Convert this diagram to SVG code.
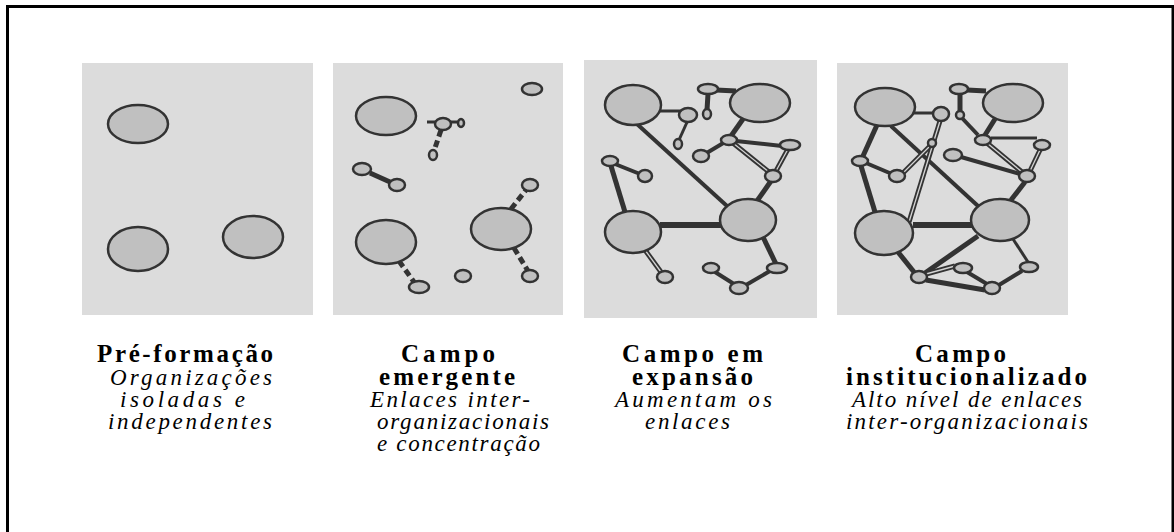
<svg xmlns="http://www.w3.org/2000/svg" width="1174" height="532" viewBox="0 0 1174 532">
<style>
.panel{fill:#dcdcdc}
.n{fill:#c0c0c0;stroke:#333;stroke-width:2.5}
.e{stroke:#333;stroke-width:3;fill:none;stroke-linecap:butt}
.m{stroke-width:4}
.t{stroke-width:5}
.w{stroke-width:6}
.dsh{stroke-dasharray:7 4}
.di{stroke:#d4d4d4;stroke-width:1.3;fill:none}
.h{font-family:"Liberation Serif","Times New Roman",serif;font-weight:bold;font-size:25px;fill:#000}
.s{font-family:"Liberation Serif","Times New Roman",serif;font-style:italic;font-size:23px;fill:#000}
</style>
<rect x="7.5" y="6.5" width="1165.5" height="600" fill="#fff" stroke="#000" stroke-width="3"/>
<g id="panels">
<rect class="panel" x="82" y="63" width="231" height="252"/>
<rect class="panel" x="333" y="63" width="230" height="252"/>
<rect class="panel" x="584" y="60" width="233" height="258"/>
<rect class="panel" x="837" y="63" width="231" height="252"/>
</g>
<g id="connectors">
<line class="e" x1="427" y1="122" x2="436" y2="122"/>
<line class="e" x1="450" y1="122" x2="458" y2="122"/>
<line class="e t dsh" x1="441" y1="130" x2="434" y2="151"/>
<line class="e t" x1="370" y1="173" x2="390" y2="182"/>
<line class="e t dsh" x1="399" y1="261" x2="414" y2="282"/>
<line class="e t dsh" x1="511" y1="209" x2="526" y2="190"/>
<line class="e t dsh" x1="514" y1="248" x2="528" y2="271"/>
<line class="e" x1="660" y1="111" x2="682" y2="111"/>
<line class="e t" x1="716" y1="90" x2="736" y2="91"/>
<line class="e t" x1="708" y1="94" x2="707" y2="110"/>
<line class="e" x1="688" y1="120" x2="679" y2="140"/>
<line class="e t" x1="743" y1="119" x2="731" y2="136"/>
<line class="e m" x1="725" y1="142" x2="705" y2="154"/>
<line class="e m" x1="736" y1="141" x2="782" y2="146"/>
<line class="e t" x1="733" y1="143" x2="769" y2="172"/>
<line class="di" x1="733" y1="143" x2="769" y2="172"/>
<line class="e t" x1="788" y1="149" x2="776" y2="171"/>
<line class="di" x1="788" y1="149" x2="776" y2="171"/>
<line class="e t" x1="771" y1="181" x2="757" y2="201"/>
<line class="e m" x1="637" y1="124" x2="727" y2="206"/>
<line class="e m" x1="615" y1="164" x2="640" y2="174"/>
<line class="e t" x1="611" y1="166" x2="625" y2="212"/>
<line class="e w" x1="660" y1="225" x2="721" y2="225"/>
<line class="e t" x1="645" y1="250" x2="661" y2="272"/>
<line class="di" x1="645" y1="250" x2="661" y2="272"/>
<line class="e t" x1="763" y1="237" x2="776" y2="264"/>
<line class="e m" x1="715" y1="272" x2="734" y2="284"/>
<line class="e m" x1="746" y1="285" x2="770" y2="271"/>
<line class="e" x1="914" y1="113" x2="933" y2="113"/>
<line class="e t" x1="967" y1="90" x2="986" y2="91"/>
<line class="e t" x1="960" y1="94" x2="960" y2="111"/>
<line class="e m" x1="962" y1="118" x2="978" y2="135"/>
<line class="e t" x1="995" y1="119" x2="985" y2="135"/>
<line class="e" x1="991" y1="138" x2="1037" y2="138"/>
<line class="e t" x1="987" y1="143" x2="1022" y2="172"/>
<line class="di" x1="987" y1="143" x2="1022" y2="172"/>
<line class="e t" x1="1040" y1="150" x2="1030" y2="171"/>
<line class="di" x1="1040" y1="150" x2="1030" y2="171"/>
<line class="e m" x1="961" y1="157" x2="1020" y2="174"/>
<line class="e t" x1="1025" y1="182" x2="1011" y2="200"/>
<line class="e m" x1="891" y1="126" x2="978" y2="206"/>
<line class="e t" x1="877" y1="125" x2="863" y2="156"/>
<line class="e t" x1="861" y1="166" x2="875" y2="212"/>
<line class="e m" x1="866" y1="163" x2="892" y2="174"/>
<line class="e t" x1="903" y1="173" x2="930" y2="146"/>
<line class="di" x1="903" y1="173" x2="930" y2="146"/>
<line class="e t" x1="940" y1="121" x2="909" y2="222"/>
<line class="di" x1="940" y1="121" x2="909" y2="222"/>
<line class="e w" x1="913" y1="225" x2="972" y2="225"/>
<line class="e t" x1="898" y1="252" x2="914" y2="272"/>
<line class="e t" x1="925" y1="273" x2="978" y2="236"/>
<line class="e t" x1="926" y1="274" x2="955" y2="266"/>
<line class="di" x1="926" y1="274" x2="955" y2="266"/>
<line class="e t" x1="926" y1="280" x2="985" y2="290"/>
<line class="e m" x1="967" y1="272" x2="987" y2="284"/>
<line class="e m" x1="999" y1="285" x2="1022" y2="271"/>
<line class="e" x1="1013" y1="239" x2="1028" y2="262"/>
</g>
<g id="p1-nodes">
<ellipse class="n" cx="138" cy="124" rx="30" ry="19"/>
<ellipse class="n" cx="138" cy="249" rx="30" ry="22"/>
<ellipse class="n" cx="253" cy="237" rx="30" ry="21"/>
</g>
<g id="p2-nodes">
<ellipse class="n" cx="386" cy="116" rx="30" ry="19"/>
<ellipse class="n" cx="443" cy="124" rx="8" ry="6"/>
<ellipse class="n" cx="461" cy="123" rx="3" ry="4"/>
<ellipse class="n" cx="433" cy="155" rx="4" ry="5"/>
<ellipse class="n" cx="532" cy="89" rx="10" ry="6"/>
<ellipse class="n" cx="362" cy="169" rx="9" ry="6"/>
<ellipse class="n" cx="397" cy="185" rx="8" ry="6"/>
<ellipse class="n" cx="386" cy="242" rx="30" ry="22"/>
<ellipse class="n" cx="419" cy="287" rx="10" ry="6"/>
<ellipse class="n" cx="501" cy="229" rx="30" ry="21"/>
<ellipse class="n" cx="530" cy="185" rx="8" ry="6"/>
<ellipse class="n" cx="530" cy="276" rx="8" ry="6"/>
<ellipse class="n" cx="463" cy="276" rx="8" ry="6"/>
</g>
<g id="p3-nodes">
<ellipse class="n" cx="633" cy="105" rx="28" ry="20"/>
<ellipse class="n" cx="760" cy="103" rx="30" ry="19"/>
<ellipse class="n" cx="633" cy="232" rx="28" ry="21"/>
<ellipse class="n" cx="748" cy="220" rx="28" ry="21"/>
<ellipse class="n" cx="708" cy="89" rx="10" ry="5"/>
<ellipse class="n" cx="688" cy="115" rx="9" ry="7"/>
<ellipse class="n" cx="707" cy="114" rx="4" ry="5"/>
<ellipse class="n" cx="678" cy="144" rx="4" ry="5"/>
<ellipse class="n" cx="729" cy="140" rx="8" ry="5"/>
<ellipse class="n" cx="701" cy="156" rx="8" ry="6"/>
<ellipse class="n" cx="790" cy="145" rx="10" ry="5"/>
<ellipse class="n" cx="773" cy="176" rx="8" ry="6"/>
<ellipse class="n" cx="610" cy="161" rx="8" ry="5"/>
<ellipse class="n" cx="645" cy="176" rx="7" ry="6"/>
<ellipse class="n" cx="665" cy="277" rx="8" ry="6"/>
<ellipse class="n" cx="711" cy="268" rx="8" ry="5"/>
<ellipse class="n" cx="739" cy="288" rx="9" ry="6"/>
<ellipse class="n" cx="777" cy="268" rx="10" ry="5"/>
</g>
<g id="p4-nodes">
<ellipse class="n" cx="885" cy="107" rx="30" ry="19"/>
<ellipse class="n" cx="1013" cy="103" rx="30" ry="19"/>
<ellipse class="n" cx="884" cy="233" rx="29" ry="22"/>
<ellipse class="n" cx="1000" cy="220" rx="29" ry="21"/>
<ellipse class="n" cx="959" cy="89" rx="9" ry="5"/>
<ellipse class="n" cx="941" cy="114" rx="8" ry="7"/>
<ellipse class="n" cx="960" cy="115" rx="4" ry="4"/>
<ellipse class="n" cx="932" cy="143" rx="4" ry="4"/>
<ellipse class="n" cx="983" cy="140" rx="8" ry="5"/>
<ellipse class="n" cx="953" cy="155" rx="9" ry="6"/>
<ellipse class="n" cx="1042" cy="145" rx="8" ry="5"/>
<ellipse class="n" cx="1027" cy="176" rx="8" ry="6"/>
<ellipse class="n" cx="860" cy="161" rx="8" ry="5"/>
<ellipse class="n" cx="897" cy="176" rx="8" ry="6"/>
<ellipse class="n" cx="919" cy="277" rx="8" ry="6"/>
<ellipse class="n" cx="963" cy="268" rx="9" ry="5"/>
<ellipse class="n" cx="992" cy="288" rx="8" ry="6"/>
<ellipse class="n" cx="1029" cy="267" rx="9" ry="5"/>
</g>
<g id="label-1">
<text class="h" x="97" y="362" textLength="176" lengthAdjust="spacing">Pré-formação</text>
<text class="s" x="110" y="385" textLength="162" lengthAdjust="spacing">Organizações</text>
<text class="s" x="120" y="407" textLength="125" lengthAdjust="spacing">isoladas e</text>
<text class="s" x="108" y="429" textLength="164" lengthAdjust="spacing">independentes</text>
</g>
<g id="label-2">
<text class="h" x="401" y="362" textLength="94" lengthAdjust="spacing">Campo</text>
<text class="h" x="379" y="385" textLength="136" lengthAdjust="spacing">emergente</text>
<text class="s" x="370" y="407" textLength="160" lengthAdjust="spacing">Enlaces inter-</text>
<text class="s" x="377" y="429" textLength="172" lengthAdjust="spacing">organizacionais</text>
<text class="s" x="377" y="451" textLength="163" lengthAdjust="spacing">e concentração</text>
</g>
<g id="label-3">
<text class="h" x="622" y="362" textLength="141" lengthAdjust="spacing">Campo em</text>
<text class="h" x="632" y="385" textLength="121" lengthAdjust="spacing">expansão</text>
<text class="s" x="615" y="407" textLength="157" lengthAdjust="spacing">Aumentam os</text>
<text class="s" x="645" y="429" textLength="85" lengthAdjust="spacing">enlaces</text>
</g>
<g id="label-4">
<text class="h" x="915" y="362" textLength="91" lengthAdjust="spacing">Campo</text>
<text class="h" x="846" y="385" textLength="241" lengthAdjust="spacing">institucionalizado</text>
<text class="s" x="852" y="407" textLength="230" lengthAdjust="spacing">Alto nível de enlaces</text>
<text class="s" x="846" y="429" textLength="242" lengthAdjust="spacing">inter-organizacionais</text>
</g>
</svg>
